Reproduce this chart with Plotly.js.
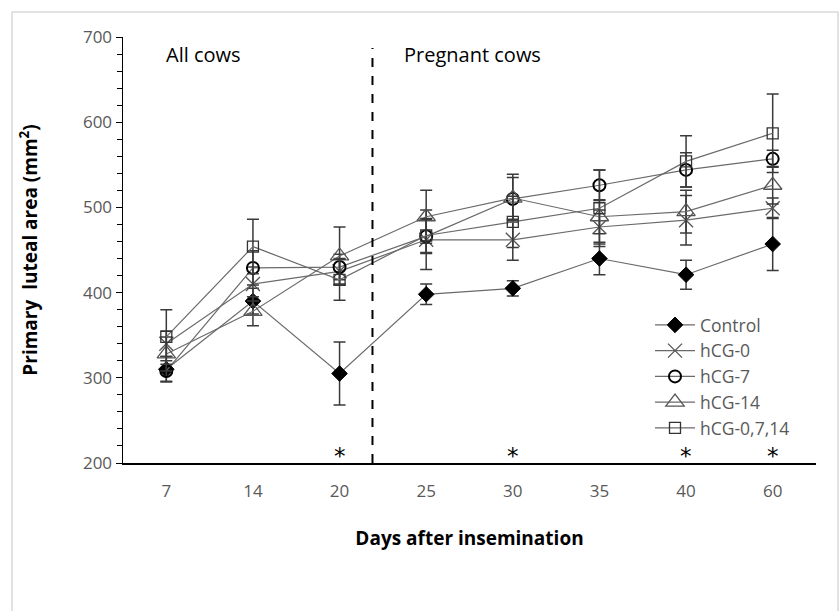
<!DOCTYPE html>
<html>
<head>
<meta charset="utf-8">
<script src="https://cdn.plot.ly/plotly-3.0.1.min.js"></script>
<style>html,body{margin:0;padding:0;background:#fff;}#chart{width:840px;height:611px;}</style>
</head>
<body>
<div id="chart"></div>
<script>
const days = ['7','14','20','25','30','35','40','60'];
const control = [310, 390, 305, 398, 405, 440, 421, 457];
const controlErr = [15, 15, 37, 12, 9, 19, 17, 31];
const hcg0 = [340, 410, 425, 462, 462, 477, 485, 499];
const hcg0Err = [15, 20, 15, 35, 24, 20, 29, 12];
const hcg7 = [308, 429, 430, 466, 510, 526, 544, 557];
const hcg7Err = [12, 20, 15, 20, 25, 18, 20, 10];
const hcg14 = [328, 378, 443, 489, 511, 489, 495, 526];
const hcg14Err = [20, 17, 34, 31, 28, 20, 25, 22];
const hcgAll = [348, 454, 415, 467, 483, 499, 554, 587];
const hcgAllErr = [32, 32, 24, 20, 30, 45, 30, 46];
const seriesNames = ['Control', 'hCG-0', 'hCG-7', 'hCG-14', 'hCG-0,7,14'];
const starDays = ['20', '30', '40', '60'];
const groupLabels = ['All cows', 'Pregnant cows'];

const FONT = 'Open Sans';
const lineCol = '#6a6a6a';
const errCol = '#3a3a3a';
function mk(name, y, err, symbol, size, mcol, lw) {
  return {
    type: 'scatter', mode: 'lines+markers', name: name, x: days, y: y,
    line: {color: lineCol, width: 1.2},
    marker: {symbol: symbol, size: size, color: mcol, line: {color: mcol, width: lw}},
    error_y: {type: 'data', array: err, visible: true, color: errCol, thickness: 1.5, width: 6}
  };
}
const traces = [
  mk(seriesNames[0], control, controlErr, 'diamond', 12, '#000', 1),
  mk(seriesNames[1], hcg0, hcg0Err, 'x-thin-open', 14, '#555', 1.3),
  mk(seriesNames[2], hcg7, hcg7Err, 'circle-open', 12, '#000', 2),
  mk(seriesNames[3], hcg14, hcg14Err, 'triangle-up-open', 16, '#555', 1.3),
  mk(seriesNames[4], hcgAll, hcgAllErr, 'square-open', 11, '#333', 1.3)
];

const ml = 123, mr = 24, mt = 37, mb = 148;
const pw = 840 - ml - mr, ph = 611 - mt - mb;
function px(x) { return (x - ml) / pw; }
function py(y) { return (611 - mb - y) / ph; }

const annotations = starDays.map(d => ({
  x: days.indexOf(d), y: 200, xref: 'x', yref: 'y', yanchor: 'bottom', text: '*', showarrow: false,
  font: {size: 23, color: '#000', family: 'DejaVu Sans'}, yshift: -8
}));
annotations.push({x: px(164), y: py(54), xref: 'paper', yref: 'paper', xanchor: 'left', yanchor: 'middle',
  text: groupLabels[0], showarrow: false, font: {size: 20, color: '#000', family: FONT}});
annotations.push({x: px(402), y: py(54), xref: 'paper', yref: 'paper', xanchor: 'left', yanchor: 'middle',
  text: groupLabels[1], showarrow: false, font: {size: 20, color: '#000', family: FONT}});

const layout = {
  width: 840, height: 611,
  margin: {l: ml, r: mr, t: mt, b: mb},
  paper_bgcolor: '#fff', plot_bgcolor: '#fff',
  font: {family: FONT, color: '#595959', size: 16},
  showlegend: true,
  legend: {x: px(650), y: py(307), xanchor: 'left', yanchor: 'top', bgcolor: 'rgba(0,0,0,0)',
    font: {size: 17.5, color: '#595959', family: FONT}, tracegroupgap: 0, itemsizing: 'trace',
    itemwidth: 40},
  xaxis: {
    type: 'category', range: [-0.5, 7.5], showgrid: false, zeroline: false,
    showline: true, linecolor: '#000', linewidth: 2, ticks: '', ticklabelstandoff: 12,
    tickfont: {size: 17, color: '#595959'},
    title: {text: '<b>Days after insemination</b>', font: {size: 19, color: '#000'}, standoff: 30}
  },
  yaxis: {
    range: [200, 700], dtick: 100, showgrid: false, zeroline: false,
    showline: true, linecolor: '#000', linewidth: 1.5, ticks: 'outside', ticklen: 6, tickcolor: '#000',
    minor: {dtick: 20, ticks: 'outside', ticklen: 5, tickcolor: '#000'},
    tickfont: {size: 17, color: '#595959'},
    title: {text: '<b>Primary  luteal area (mm<sup>2</sup>)</b>', font: {size: 19, color: '#000'}, standoff: 40}
  },
  shapes: [
    {type: 'line', xref: 'x', yref: 'y', x0: 2.38, x1: 2.38, y0: 200, y1: 687,
      line: {color: '#000', width: 2, dash: 'dash'}},
    {type: 'rect', xref: 'paper', yref: 'paper', x0: px(12), x1: px(838), y0: py(640), y1: py(12),
      line: {color: '#d9d9d9', width: 1.5}, layer: 'below'}
  ],
  annotations: annotations
};
Plotly.newPlot('chart', traces, layout, {displayModeBar: false, staticPlot: true});
</script>
</body>
</html>
